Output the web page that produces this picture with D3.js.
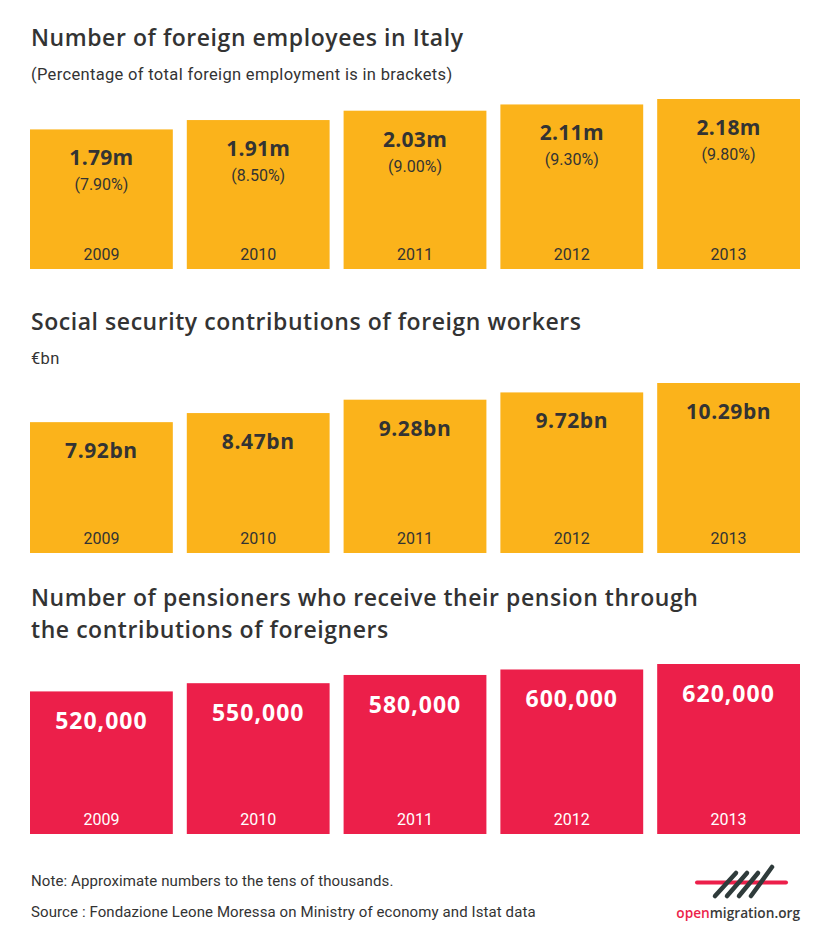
<!DOCTYPE html>
<html>
<head>
<meta charset="utf-8">
<script src="https://cdn.jsdelivr.net/npm/d3@7"></script>
<style>
  html, body { margin: 0; padding: 0; background: #fff; }
  svg { display: block; }
</style>
</head>
<body>
<svg id="chart" width="830" height="948"></svg>
<script>
// ---- Data ----
const years = ["2009", "2010", "2011", "2012", "2013"];
const employees = [1.79, 1.91, 2.03, 2.11, 2.18];            // millions
const employeeLabels = ["1.79m", "1.91m", "2.03m", "2.11m", "2.18m"];
const employeeShares = ["(7.90%)", "(8.50%)", "(9.00%)", "(9.30%)", "(9.80%)"];
const contributions = [7.92, 8.47, 9.28, 9.72, 10.29];      // € billions
const contributionLabels = ["7.92bn", "8.47bn", "9.28bn", "9.72bn", "10.29bn"];
const pensioners = [520000, 550000, 580000, 600000, 620000];
const pensionerLabels = ["520,000", "550,000", "580,000", "600,000", "620,000"];

const YELLOW = "#FBB31B";
const RED = "#EC1F4A";
const DARK = "#333333";

const svg = d3.select("#chart");

const x = d3.scaleBand().domain(years).range([30, 800]).paddingInner(14 / 157).paddingOuter(0);

const TITLE_FONT = "'Open Sans', sans-serif";
const BODY_FONT = "Roboto, sans-serif";

function title(lines, y0, lineGap) {
  const t = svg.append("text")
    .attr("x", 31).attr("y", y0)
    .attr("font-family", TITLE_FONT).attr("font-weight", 600)
    .attr("font-size", 23).attr("letter-spacing", 0.55).attr("fill", DARK);
  lines.forEach((line, i) => {
    t.append("tspan").attr("x", 31).attr("y", y0 + i * lineGap).text(line);
  });
}
function subtitle(t, y) {
  svg.append("text")
    .attr("x", 31).attr("y", y)
    .attr("font-family", BODY_FONT).attr("font-size", 16.5).attr("letter-spacing", 0.33)
    .attr("fill", DARK)
    .text(t);
}

function panel(values, labels, subLabels, bottom, color, textColor, valueOffset, valueSize, valueSpacing) {
  const y = d3.scaleLinear().domain([0, d3.max(values)]).range([bottom, bottom - 170]);
  const g = svg.append("g");
  const data = years.map((yr, i) => ({ yr, v: values[i], label: labels[i], sub: subLabels ? subLabels[i] : null }));
  const cells = g.selectAll("g.cell").data(data).join("g").attr("class", "cell");
  cells.append("rect")
    .attr("x", d => x(d.yr)).attr("width", x.bandwidth())
    .attr("y", d => y(d.v)).attr("height", d => bottom - y(d.v))
    .attr("fill", color);
  cells.append("text")
    .attr("x", d => x(d.yr) + x.bandwidth() / 2)
    .attr("y", d => y(d.v) + valueOffset)
    .attr("text-anchor", "middle")
    .attr("font-family", TITLE_FONT).attr("font-weight", 700)
    .attr("font-size", valueSize).attr("letter-spacing", valueSpacing).attr("fill", textColor)
    .text(d => d.label);
  if (subLabels) {
    cells.append("text")
      .attr("x", d => x(d.yr) + x.bandwidth() / 2)
      .attr("y", d => y(d.v) + 61)
      .attr("text-anchor", "middle")
      .attr("font-family", BODY_FONT).attr("font-size", 16).attr("fill", textColor)
      .text(d => d.sub);
  }
  cells.append("text")
    .attr("x", d => x(d.yr) + x.bandwidth() / 2)
    .attr("y", bottom - 9)
    .attr("text-anchor", "middle")
    .attr("font-family", BODY_FONT).attr("font-size", 16).attr("fill", textColor)
    .text(d => d.yr);
}

// Panel 1
title(["Number of foreign employees in Italy"], 46, 0);
subtitle("(Percentage of total foreign employment is in brackets)", 80);
panel(employees, employeeLabels, employeeShares, 269, YELLOW, DARK, 36, 21, 0.3);

// Panel 2
title(["Social security contributions of foreign workers"], 330, 0);
subtitle("€bn", 364);
panel(contributions, contributionLabels, null, 553, YELLOW, DARK, 36, 21, 0.6);

// Panel 3
title(["Number of pensioners who receive their pension through", "the contributions of foreigners"], 606, 32);
panel(pensioners, pensionerLabels, null, 834, RED, "#ffffff", 38, 23, 1);

// Footer
svg.append("text").attr("x", 31).attr("y", 886)
  .attr("font-family", BODY_FONT).attr("font-size", 15).attr("letter-spacing", 0.1).attr("fill", DARK)
  .text("Note: Approximate numbers to the tens of thousands.");
svg.append("text").attr("x", 31).attr("y", 917)
  .attr("font-family", BODY_FONT).attr("font-size", 15).attr("letter-spacing", 0.1).attr("fill", DARK)
  .text("Source : Fondazione Leone Moressa on Ministry of economy and Istat data");

// Logo
const logo = svg.append("g");
logo.append("line").attr("x1", 697).attr("x2", 786).attr("y1", 882.5).attr("y2", 882.5)
  .attr("stroke", RED).attr("stroke-width", 4).attr("stroke-linecap", "round");
const slashes = [[715, 896, 736, 873], [727, 896, 747, 873], [739, 896, 758, 873], [751, 896, 772, 867]];
slashes.forEach(s => {
  logo.append("line").attr("x1", s[0]).attr("y1", s[1]).attr("x2", s[2]).attr("y2", s[3])
    .attr("stroke", "#2F3B3B").attr("stroke-width", 4.5).attr("stroke-linecap", "round");
});
const lt = logo.append("text").attr("x", 800).attr("y", 918).attr("text-anchor", "end")
  .attr("font-family", TITLE_FONT).attr("font-weight", 600).attr("font-size", 13.7);
lt.append("tspan").attr("fill", RED).text("open");
lt.append("tspan").attr("fill", "#3a3a3a").text("migration.org");
</script>
</body>
</html>
